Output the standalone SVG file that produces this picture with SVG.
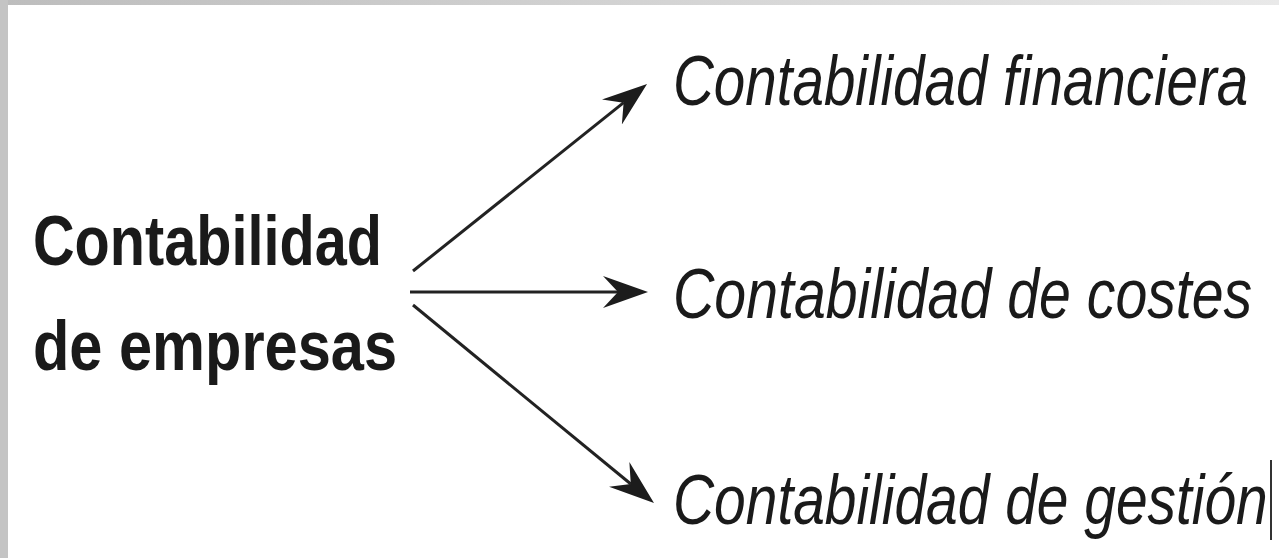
<svg xmlns="http://www.w3.org/2000/svg" width="1279" height="558" viewBox="0 0 1279 558">
  <defs>
    <linearGradient id="topGrad" x1="0" y1="0" x2="1" y2="0">
      <stop offset="0" stop-color="#bdbdbd"/>
      <stop offset="1" stop-color="#e9e9e9"/>
    </linearGradient>
    <marker id="arrow" viewBox="0 -17 46 34" markerWidth="46" markerHeight="34" refX="15" refY="0" orient="auto" markerUnits="userSpaceOnUse">
      <path d="M0,-16 L45,0 L0,16 L15,0 Z" fill="#1c1c1c"/>
    </marker>
  </defs>
  <style>
    .main { font-family: "Liberation Sans", Arial, sans-serif; font-weight: bold; font-size: 71px; fill: #1a1a1a; }
    .leaf { font-family: "Liberation Sans", Arial, sans-serif; font-style: italic; font-size: 70px; fill: #1a1a1a; }
    .conn { stroke: #222; stroke-width: 3; fill: none; marker-end: url(#arrow); }
  </style>
  <rect x="0" y="0" width="1279" height="558" fill="#ffffff"/>
  <rect x="0" y="0" width="1279" height="5" fill="url(#topGrad)"/>
  <rect x="0" y="0" width="8" height="558" fill="#c4c4c4"/>

  <g id="node-empresas">
    <text class="main" x="33" y="265" textLength="349" lengthAdjust="spacingAndGlyphs">Contabilidad</text>
    <text class="main" x="33" y="370" textLength="364" lengthAdjust="spacingAndGlyphs">de empresas</text>
  </g>
  <g id="node-financiera" transform="translate(673,105) scale(0.808,1)">
    <text class="leaf" x="0" y="0">Contabilidad financiera</text>
  </g>
  <g id="node-costes" transform="translate(673,318) scale(0.818,1)">
    <text class="leaf" x="0" y="0">Contabilidad de costes</text>
  </g>
  <g id="node-gestion">
    <g transform="translate(673,524) scale(0.813,1)">
      <text class="leaf" x="0" y="0">Contabilidad de gestión</text>
    </g>
    <line x1="1271" y1="460" x2="1271" y2="540" stroke="#333" stroke-width="2"/>
  </g>

  <g id="connectors">
    <line class="conn" x1="413" y1="271" x2="623.6" y2="102.7"/>
    <line class="conn" x1="410" y1="292" x2="618" y2="292"/>
    <line class="conn" x1="413" y1="305" x2="630.8" y2="484"/>
  </g>
</svg>
